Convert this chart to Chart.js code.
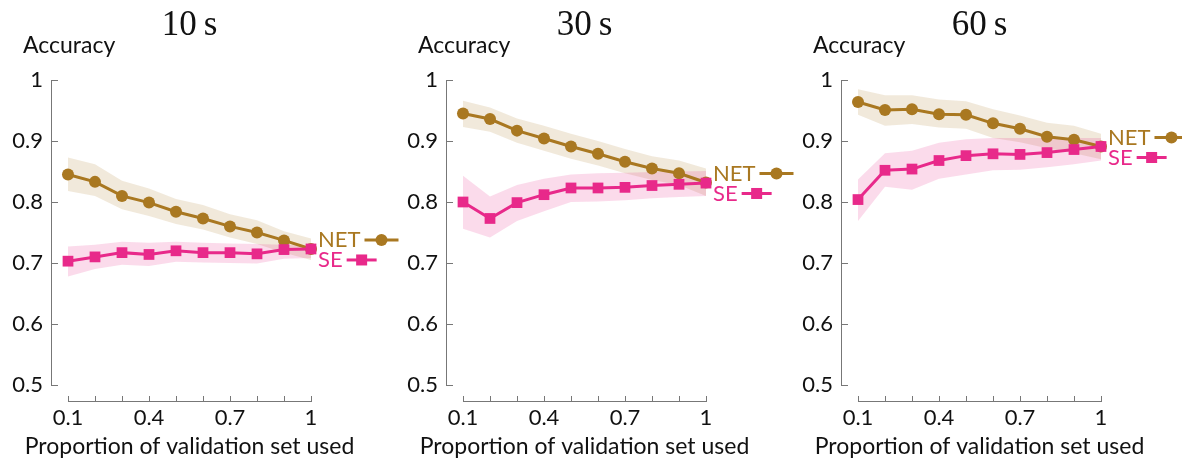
<!DOCTYPE html>
<html>
<head>
<meta charset="utf-8">
<script src="https://cdn.jsdelivr.net/npm/chart.js@4.4.1/dist/chart.umd.min.js"></script>
<style>
  body{margin:0;background:#fff;width:1182px;height:459px;overflow:hidden;position:relative}
  canvas{position:absolute;top:0}
</style>
</head>
<body>
<canvas id="c10" width="410" height="459" style="left:0px"></canvas>
<canvas id="c30" width="410" height="459" style="left:395px"></canvas>
<canvas id="c60" width="410" height="459" style="left:790px"></canvas>
<script>
// proportions on x axis
const props = [0.1,0.2,0.3,0.4,0.5,0.6,0.7,0.8,0.9,1.0];
const xTickLabels = [0.1,0.4,0.7,1];
const yTicks = [0.5,0.6,0.7,0.8,0.9,1];

// 10 s
const net10   = [0.845,0.833,0.810,0.799,0.784,0.773,0.760,0.750,0.737,0.723];
const net10Hi = [0.873,0.862,0.835,0.822,0.805,0.795,0.780,0.770,0.752,0.740];
const net10Lo = [0.818,0.810,0.788,0.777,0.764,0.755,0.742,0.731,0.717,0.705];
const se10    = [0.703,0.710,0.717,0.714,0.720,0.717,0.717,0.715,0.722,0.723];
const se10Hi  = [0.727,0.730,0.735,0.733,0.735,0.733,0.732,0.731,0.730,0.728];
const se10Lo  = [0.678,0.690,0.697,0.695,0.702,0.701,0.700,0.699,0.707,0.708];

// 30 s
const net30   = [0.945,0.936,0.917,0.904,0.891,0.879,0.866,0.855,0.847,0.832];
const net30Hi = [0.966,0.955,0.937,0.925,0.912,0.900,0.887,0.875,0.868,0.855];
const net30Lo = [0.923,0.915,0.897,0.884,0.871,0.860,0.847,0.836,0.828,0.810];
const se30    = [0.800,0.773,0.799,0.812,0.823,0.823,0.824,0.827,0.829,0.831];
const se30Hi  = [0.843,0.809,0.828,0.838,0.845,0.847,0.848,0.849,0.850,0.851];
const se30Lo  = [0.756,0.742,0.769,0.785,0.800,0.801,0.803,0.806,0.808,0.810];

// 60 s
const net60   = [0.964,0.951,0.952,0.944,0.943,0.929,0.920,0.907,0.902,0.891];
const net60Hi = [0.985,0.975,0.975,0.968,0.965,0.952,0.942,0.930,0.925,0.912];
const net60Lo = [0.943,0.925,0.928,0.922,0.920,0.905,0.898,0.888,0.880,0.870];
const se60    = [0.804,0.852,0.854,0.868,0.876,0.879,0.878,0.881,0.886,0.891];
const se60Hi  = [0.837,0.880,0.884,0.897,0.903,0.905,0.905,0.905,0.905,0.905];
const se60Lo  = [0.769,0.825,0.820,0.838,0.845,0.852,0.853,0.857,0.862,0.868];

const BROWN = 'rgb(169,120,33)';
const PINK = 'rgb(232,41,138)';
const BROWN_BAND = 'rgba(169,120,33,0.16)';
const PINK_BAND = 'rgba(232,41,138,0.17)';
const FONT = 'Lato';

const pts = arr => arr.map((v,i)=>({x:props[i], y:v}));

// axes, labels and the inline legend
const decor = {
  id:'decor',
  beforeDatasetsDraw(chart){
    const ctx = chart.ctx, xs = chart.scales.x, ys = chart.scales.y;
    const left = chart.chartArea.left, bottom = chart.chartArea.bottom;
    ctx.save();
    ctx.strokeStyle = '#777';
    ctx.lineWidth = 1;
    ctx.beginPath();
    ctx.moveTo(left+0.5, ys.getPixelForValue(1));
    ctx.lineTo(left+0.5, ys.getPixelForValue(0.5));
    yTicks.forEach(v=>{
      const y = Math.round(ys.getPixelForValue(v))+0.5;
      ctx.moveTo(left, y); ctx.lineTo(left+7, y);
    });
    ctx.moveTo(xs.getPixelForValue(0.1), bottom-0.5);
    ctx.lineTo(xs.getPixelForValue(1), bottom-0.5);
    props.forEach(v=>{
      const x = Math.round(xs.getPixelForValue(v))+0.5;
      ctx.moveTo(x, bottom); ctx.lineTo(x, bottom-6);
    });
    ctx.stroke();
    ctx.restore();
  },
  afterDraw(chart){
    const ctx = chart.ctx, xs = chart.scales.x, ys = chart.scales.y;
    const o = chart.options.plugins.decor;
    const mid = (xs.getPixelForValue(0.1)+xs.getPixelForValue(1))/2;
    ctx.save();
    ctx.textBaseline = 'middle';
    ctx.fillStyle = '#111';
    ctx.textAlign = 'center';
    ctx.font = '35px "Liberation Serif"';
    ctx.fillText(o.title, mid, 26);
    ctx.font = '23px ' + FONT;
    ctx.fillText('Proportion of validation set used', mid, 447);
    ctx.textAlign = 'left';
    ctx.fillText('Accuracy', 23, 46);

    // legend next to the last points
    ctx.font = '22px ' + FONT;
    const x0 = xs.getPixelForValue(1) + 7;
    const yl = ys.getPixelForValue(o.lastNet);
    ctx.fillStyle = BROWN;
    ctx.fillText('NET', x0, yl-9);
    let w = ctx.measureText('NET').width;
    ctx.strokeStyle = BROWN; ctx.lineWidth = 3;
    ctx.beginPath(); ctx.moveTo(x0+w+4, yl-9); ctx.lineTo(x0+w+38, yl-9); ctx.stroke();
    ctx.beginPath(); ctx.arc(x0+w+21, yl-9, 6, 0, Math.PI*2); ctx.fill();
    ctx.fillStyle = PINK; ctx.strokeStyle = PINK;
    ctx.fillText('SE', x0, yl+11);
    w = ctx.measureText('SE').width;
    ctx.beginPath(); ctx.moveTo(x0+w+4, yl+11); ctx.lineTo(x0+w+34, yl+11); ctx.stroke();
    ctx.fillRect(x0+w+19-5.5, yl+11-5.5, 11, 11);
    ctx.restore();
  }
};

function makePanel(id, title, net, netHi, netLo, se, seHi, seLo){
  const ctx = document.getElementById(id).getContext('2d');
  return new Chart(ctx, {
    type:'line',
    data:{ datasets:[
      {data:pts(net), borderColor:BROWN, backgroundColor:BROWN, borderWidth:3,
       pointStyle:'circle', pointRadius:6, pointBorderWidth:0, pointBackgroundColor:BROWN, order:1, clip:false},
      {data:pts(se), borderColor:PINK, backgroundColor:PINK, borderWidth:3,
       pointStyle:'rect', pointRadius:7.6, pointBorderWidth:0, pointBackgroundColor:PINK, order:0, clip:false},
      {data:pts(netHi), borderWidth:0, pointRadius:0, order:5, fill:false},
      {data:pts(netLo), borderWidth:0, pointRadius:0, order:4, fill:'-1', backgroundColor:BROWN_BAND},
      {data:pts(seHi), borderWidth:0, pointRadius:0, order:3, fill:false},
      {data:pts(seLo), borderWidth:0, pointRadius:0, order:2, fill:'-1', backgroundColor:PINK_BAND}
    ]},
    options:{
      responsive:false, animation:false,
      layout:{padding:{top:80, left:0, right:99, bottom:0}},
      plugins:{legend:{display:false}, tooltip:{enabled:false}, decor:{title:title, lastNet:net[net.length-1]}},
      scales:{
        x:{type:'linear', min:0.03704, max:1,
           grid:{display:false, drawTicks:false}, border:{display:false},
           afterBuildTicks: s => { s.ticks = props.map(v=>({value:v})); },
           afterFit: s => { s.height = 57; },
           ticks:{autoSkip:false, maxRotation:0, padding:3, color:'#111', font:{family:FONT, size:22},
             callback: v => { const t = xTickLabels.find(l=>Math.abs(l-v)<1e-6); return t===undefined ? '' : String(t); }}},
        y:{min:0.47213, max:1,
           grid:{display:false, drawTicks:false}, border:{display:false},
           afterBuildTicks: s => { s.ticks = yTicks.map(v=>({value:v})); },
           afterFit: s => { s.width = 51; },
           ticks:{padding:8, color:'#111', font:{family:FONT, size:22},
             callback: v => v===1 ? '1' : v.toFixed(1)}}
      }
    },
    plugins:[decor]
  });
}

makePanel('c10', '10\u2009s', net10, net10Hi, net10Lo, se10, se10Hi, se10Lo);
makePanel('c30', '30\u2009s', net30, net30Hi, net30Lo, se30, se30Hi, se30Lo);
makePanel('c60', '60\u2009s', net60, net60Hi, net60Lo, se60, se60Hi, se60Lo);
</script>
</body>
</html>
